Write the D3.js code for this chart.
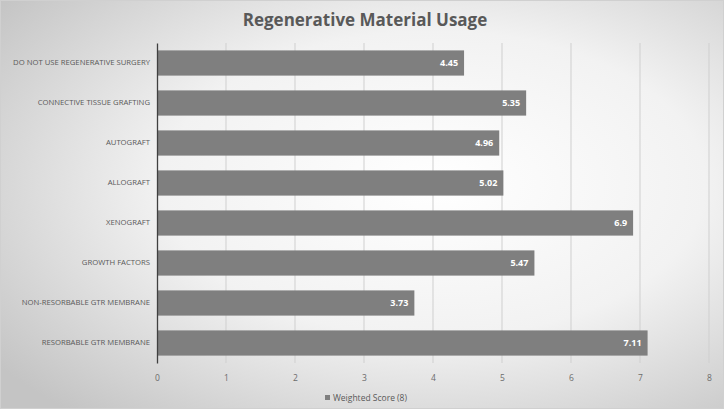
<!DOCTYPE html>
<html><head><meta charset="utf-8">
<script src="https://cdn.jsdelivr.net/npm/d3@7"></script>
<style>body{margin:0;background:#fff}svg{display:block}</style>
</head><body><svg id="c" width="724" height="409"></svg>
<script>
const categories = ["DO NOT USE REGENERATIVE SURGERY","CONNECTIVE TISSUE GRAFTING","AUTOGRAFT","ALLOGRAFT","XENOGRAFT","GROWTH FACTORS","NON-RESORBABLE GTR MEMBRANE","RESORBABLE GTR MEMBRANE"];
const values = [4.45,5.35,4.96,5.02,6.9,5.47,3.73,7.11];
const ticks = [0,1,2,3,4,5,6,7,8];
const seriesName = "Weighted Score (8)";

const svg = d3.select("#c");
const W=724,H=409;
const defs=svg.append("defs");
const g=defs.append("radialGradient").attr("id","bg").attr("cx","60%").attr("cy","45%").attr("r","75%");
g.append("stop").attr("offset","0%").attr("stop-color","#ffffff");
g.append("stop").attr("offset","50%").attr("stop-color","#f2f2f2");
g.append("stop").attr("offset","100%").attr("stop-color","#c4c4c4");
svg.append("rect").attr("x",0.5).attr("y",0.5).attr("width",W-1).attr("height",H-1).attr("fill","url(#bg)").attr("stroke","#d0d0d0");

const x=d3.scaleLinear().domain([0,8]).range([157,709]);
const y=d3.scaleBand().domain(categories).range([43,363]).paddingInner(0.37).paddingOuter(0.185);
const font="'Open Sans', 'Liberation Sans', sans-serif";

svg.append("text").attr("x",W/2+3).attr("y",26).attr("text-anchor","middle").attr("font-family",font).attr("font-weight","bold").attr("font-size",17).attr("fill","#595959").text("Regenerative Material Usage");

svg.append("g").selectAll("line").data(ticks.slice(1)).join("line")
 .attr("x1",d=>x(d)).attr("x2",d=>x(d)).attr("y1",43).attr("y2",363).attr("stroke","#cfcfcf");

svg.append("g").selectAll("rect").data(categories).join("rect")
 .attr("x",x(0)).attr("y",d=>y(d)).attr("width",(d,i)=>x(values[i])-x(0)).attr("height",y.bandwidth()).attr("fill","#7f7f7f");

svg.append("g").selectAll("text").data(categories).join("text")
 .attr("x",(d,i)=>x(values[i])-6).attr("y",d=>y(d)+y.bandwidth()/2).attr("dy","0.35em").attr("text-anchor","end")
 .attr("font-family",font).attr("font-weight","bold").attr("font-size",9).attr("fill","#fff").text((d,i)=>values[i]);

const ya=svg.append("g").attr("transform",`translate(${x(0)},0)`).call(d3.axisLeft(y).tickSize(0).tickPadding(7));
ya.select(".domain").attr("stroke","#404040").attr("stroke-width",1.3);
ya.selectAll("text").attr("font-family",font).attr("font-size",7.7).attr("fill","#595959");

const xa=svg.append("g").attr("transform","translate(0,363)").call(d3.axisBottom(x).tickValues(ticks).tickSize(0).tickPadding(12).tickFormat(d3.format("d")));
xa.select(".domain").remove();
xa.selectAll("text").attr("font-family",font).attr("font-size",8.5).attr("fill","#6b6b6b");

const lg=svg.append("g").attr("transform","translate(325,401)");
lg.append("rect").attr("x",0).attr("y",-6).attr("width",5).attr("height",5).attr("fill","#7f7f7f");
lg.append("text").attr("x",8).attr("y",0).attr("font-family",font).attr("font-size",8.5).attr("fill","#595959").text(seriesName);
</script></body></html>
